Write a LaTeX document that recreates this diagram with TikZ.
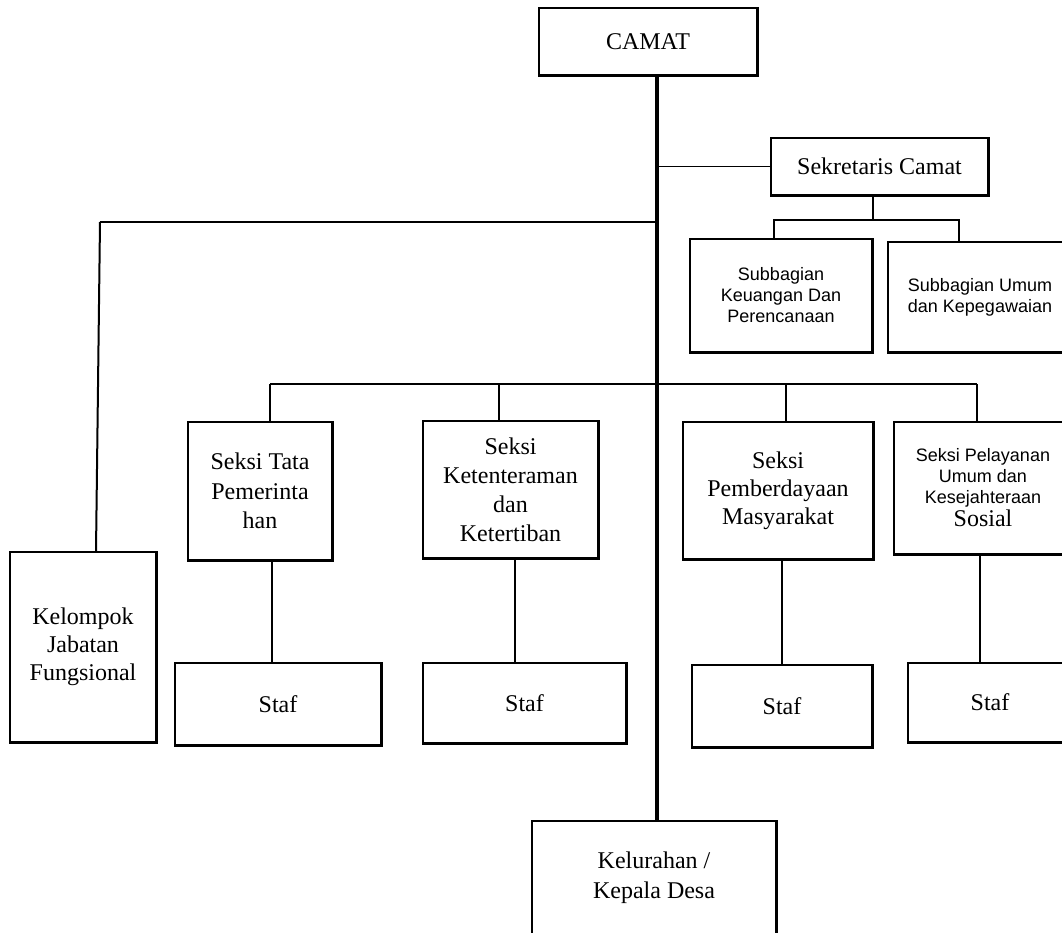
\documentclass[tikz,border=0pt]{standalone}
\usepackage{fontspec}
\setmainfont{Liberation Serif}
\newfontfamily\arialf{Liberation Sans}
\begin{document}
\begin{tikzpicture}[x=1pt,y=-1pt,
  box/.style={draw=black, line width=1.2pt, fill=white, inner sep=0pt, align=center,
    font=\fontsize{24}{28}\selectfont},
  sansbox/.style={box, font=\arialf\fontsize{18}{21}\selectfont},
  shade/.style={line width=2.8pt, black},
  conn/.style={line width=1.5pt, black},
  trunkline/.style={line width=3.5pt, black}]
\useasboundingbox (0,0) rectangle (1062,932);
\fill[white] (0,0) rectangle (1062,932);

% boxes
\node[box, minimum width=218, minimum height=67] (camat) at (648,41.5) {CAMAT};
\node[box, minimum width=217, minimum height=57] (sek) at (879.5,166.5) {Sekretaris Camat};
\node[sansbox, minimum width=182, minimum height=113] (keu) at (781,295.5) {Subbagian\\Keuangan Dan\\Perencanaan};
\node[sansbox, minimum width=184, minimum height=110] (umum) at (980,297) {Subbagian Umum\\dan Kepegawaian};
\node[box, minimum width=146, minimum height=190] (kel) at (83,647) {Kelompok\\Jabatan\\Fungsional};
\node[box, minimum width=144, minimum height=138, font=\fontsize{24}{29.5}\selectfont] (tata) at (260,491) {Seksi Tata\\Pemerinta\\han};
\node[box, minimum width=175, minimum height=137, font=\fontsize{24}{29}\selectfont] (tent) at (510.5,489.5) {Seksi\\Ketenteraman\\dan\\Ketertiban};
\node[box, minimum width=190, minimum height=137] (berd) at (778,490.5) {Seksi\\Pemberdayaan\\Masyarakat};
\node[sansbox, minimum width=178, minimum height=132] (pel) at (983,488) {Seksi Pelayanan\\Umum dan\\Kesejahteraan\\[2pt]{\rmfamily\fontsize{24}{21}\selectfont Sosial}};
\node[box, minimum width=206, minimum height=82] (staf1) at (278,704) {Staf};
\node[box, minimum width=203, minimum height=80] (staf2) at (524.5,703) {Staf};
\node[box, minimum width=180, minimum height=82] (staf3) at (782,706) {Staf};
\node[box, minimum width=164, minimum height=79] (staf4) at (990,702.5) {Staf};
\node[box, minimum width=244, minimum height=114, font=\fontsize{24}{30}\selectfont] (lurah) at (654,878) {Kelurahan /\\Kepala Desa};

% thicker right and bottom edges
\foreach \n in {camat,sek,keu,umum,kel,tata,tent,berd,pel,staf1,staf2,staf3,staf4,lurah}
  \draw[shade] (\n.north east) -- (\n.south east) -- (\n.south west);

% reference coordinates
\coordinate (tx) at (657,0);
\coordinate (kx) at (100,222);
\coordinate (sekx) at (873,0);
\coordinate (brL) at (774,220);
\coordinate (brR) at (959,220);
\coordinate (barL) at (270,384);
\coordinate (barR) at (977,384);
\coordinate (tentx) at (499,384);
\coordinate (berdx) at (786,384);
\coordinate (tataS) at (272,0);
\coordinate (tentS) at (515,0);
\coordinate (berdS) at (782,0);
\coordinate (pelS) at (980,0);

% trunk
\draw[trunkline] (camat.south -| tx) -- (lurah.north -| tx);
% sekretaris
\draw[conn] (tx |- sek.west) -- (sek.west);
\draw[conn] (sek.south -| sekx) -- (sekx |- brL);
\draw[conn] (keu.north -| brL) -- (brL) -- (brR) -- (umum.north -| brR);
% kelompok
\draw[conn] (tx |- kx) -- (kx);
\draw[line width=2pt] (kx) -- ([xshift=-4pt]kel.north -| kx);
% seksi bar
\draw[line width=2pt] (barL) -- (barR);
\draw[conn] (barL) -- (tata.north -| barL);
\draw[conn] (tentx) -- (tent.north -| tentx);
\draw[conn] (berdx) -- (berd.north -| berdx);
\draw[conn] (barR) -- (pel.north -| barR);
% seksi to staf
\draw[conn] (tata.south -| tataS) -- (staf1.north -| tataS);
\draw[conn] (tent.south -| tentS) -- (staf2.north -| tentS);
\draw[conn] (berd.south -| berdS) -- (staf3.north -| berdS);
\draw[conn] (pel.south -| pelS) -- (staf4.north -| pelS);
\end{tikzpicture}
\end{document}
